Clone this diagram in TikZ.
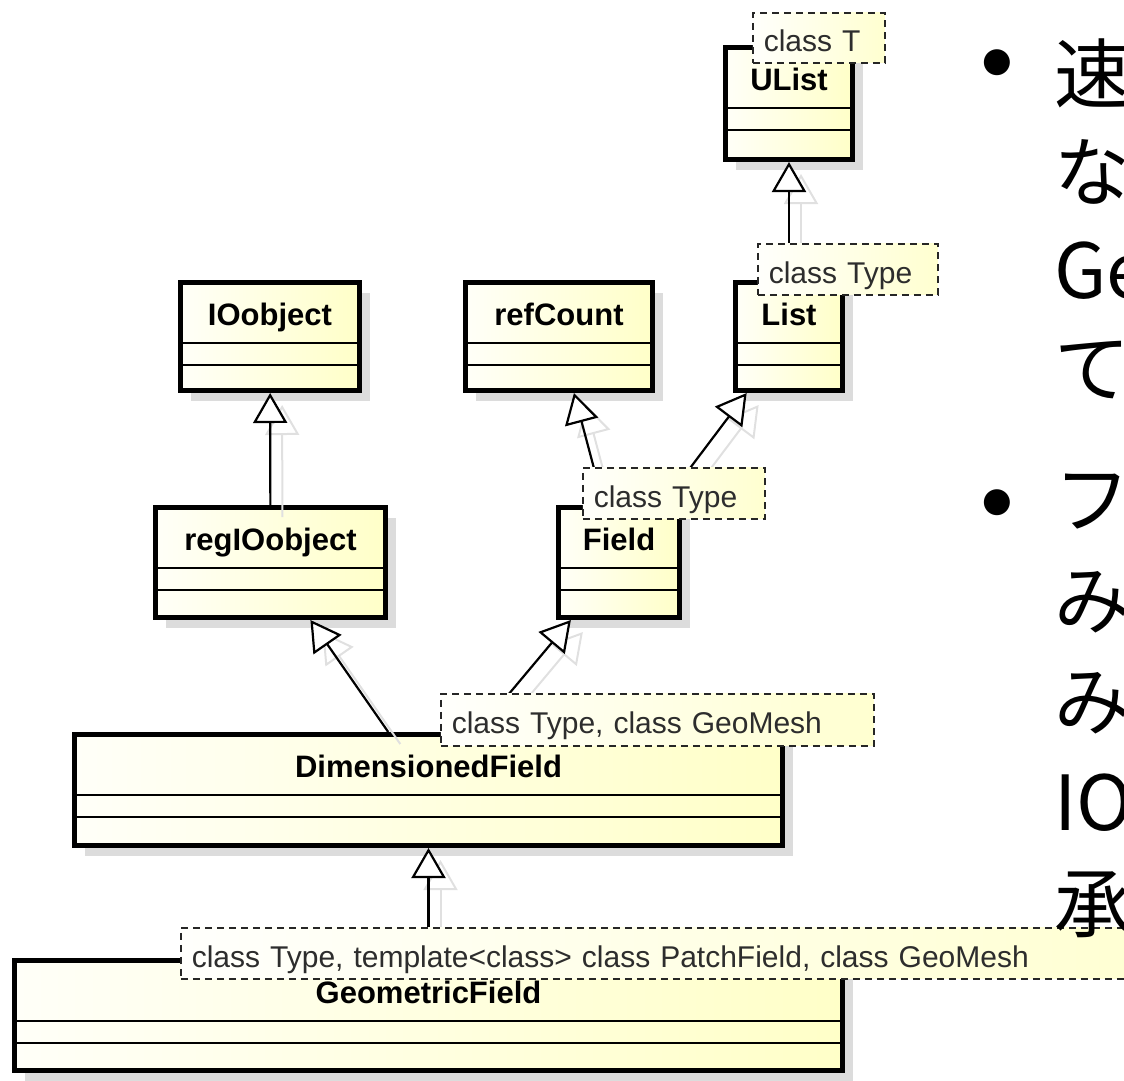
\documentclass[tikz,border=0pt]{standalone}
\usepackage{fontspec}
\setmainfont{Liberation Sans}
\newfontfamily\jpfont{Noto Sans CJK JP}
\newfontfamily\bulfont{DejaVu Sans}
\usetikzlibrary{arrows.meta,shadows,calc}
\definecolor{boxL}{RGB}{255,255,248}
\definecolor{boxR}{RGB}{255,255,200}
\definecolor{tmplL}{RGB}{255,255,252}
\definecolor{tmplR}{RGB}{255,255,208}
\definecolor{shadowc}{RGB}{220,220,220}
\definecolor{ghostc}{RGB}{224,224,224}
\definecolor{tmpltext}{RGB}{45,45,45}
\newcommand\umlclass[6]{%
  \node[classbox, minimum width=#4pt, minimum height=#5pt] (#1) at (#2,#3) {};
  \node[classtitle, anchor=base] (#1-t) at ($(#1.north)+(0,45)$) {#6};
  \draw[divider] ($(#1.north west)+(0,63)$) -- ($(#1.north east)+(0,63)$);
  \draw[divider] ($(#1.north west)+(0,85)$) -- ($(#1.north east)+(0,85)$);
}
\newcommand\umltmpl[6]{%
  \node[tmplbox, anchor=north west, minimum height=#5pt, text width=#4pt] (#1) at (#2,#3) {#6};
}
\begin{document}
\begin{tikzpicture}[x=1pt,y=-1pt,
  classbox/.style={draw=black, line width=5pt, rectangle, inner sep=0pt,
    left color=boxL, right color=boxR,
    general shadow={fill=shadowc, shadow xshift=10pt, shadow yshift=-10pt}},
  classtitle/.style={inner sep=0pt, font=\bfseries\fontsize{31}{36}\selectfont},
  divider/.style={draw=black, line width=2pt},
  tmplbox/.style={draw=black!85, line width=1.6pt, dash pattern=on 7pt off 5pt,
    left color=tmplL, right color=tmplR, inner xsep=11pt, inner ysep=0pt,
    text=tmpltext, font=\fontsize{30}{34}\selectfont,
    text height=28pt, text depth=0pt, align=left},
  inherit/.style={draw=black, line width=2.2pt,
    -{Triangle[open, fill=white, length=30pt, width=34pt]}},
  ghost/.style={draw=ghostc, line width=2pt,
    -{Triangle[open, length=30pt, width=34pt]},
    transform canvas={shift={(12pt,-12pt)}}},
  jp/.style={inner sep=0pt, font=\jpfont\fontsize{76}{90}\selectfont},
  bul/.style={inner sep=0pt, font=\bulfont\fontsize{34}{40}\selectfont}
]
\useasboundingbox (0,0) rectangle (1124,1080);
\clip (0,0) rectangle (1124,1080);

% class boxes
\umlclass{ulist}{789}{103.5}{127}{112}{UList}
\umlclass{list}{789}{336.5}{107}{108}{List}
\umlclass{io}{270}{336.5}{179}{108}{IOobject}
\umlclass{refc}{559}{336.5}{187}{108}{refCount}
\umlclass{reg}{270.5}{562.5}{230}{110}{regIOobject}
\umlclass{field}{619}{562.5}{121}{110}{Field}
\umlclass{dim}{428.5}{790}{708}{111}{DimensionedField}
\umlclass{geo}{428.5}{1015.5}{828}{110}{GeometricField}

% connector shadows
\draw[ghost] (list) -- (ulist);
\draw[ghost] (reg) -- (io);
\draw[ghost] (field) -- (refc);
\draw[ghost] (field) -- (list);
\draw[ghost] (dim) -- (reg);
\draw[ghost] (dim) -- (field);
\draw[ghost] (geo) -- (dim);

% generalisations
\draw[inherit] (list) -- (ulist);
\draw[inherit] (reg) -- (io);
\draw[inherit] (field) -- (refc);
\draw[inherit] (field) -- (list);
\draw[inherit] (dim) -- (reg);
\draw[inherit] (dim) -- (field);
\draw[inherit] (geo) -- (dim);

% template parameters
\umltmpl{tT}{752}{12}{110}{50}{class T}
\umltmpl{tList}{757}{243}{158}{51}{class Type}
\umltmpl{tField}{582}{467}{160}{51}{class Type}
\umltmpl{tDim}{440}{693}{411}{52}{class Type, class GeoMesh}
\umltmpl{tGeo}{180}{927}{1000}{51}{class Type, template<class> class PatchField, class GeoMesh}

% slide text (cut at the right edge)
\node[bul] (b1) at (997,63) {●};
\node[jp, anchor=base west] (l1) at (1054,102) {速};
\node[jp, anchor=base west] (l2) at (1054,200) {な};
\node[jp, anchor=base west] (l3) at (1054,298) {Ge};
\node[jp, anchor=base west] (l4) at (1054,396) {て};
\node[bul] (b2) at (997,503) {●};
\node[jp, anchor=base west] (l5) at (1054,527) {フ};
\node[jp, anchor=base west] (l6) at (1054,628) {み};
\node[jp, anchor=base west] (l7) at (1054,729) {み};
\node[jp, anchor=base west] (l8) at (1054,830) {IO};
\node[jp, anchor=base west] (l9) at (1054,931) {承};
\end{tikzpicture}
\end{document}
